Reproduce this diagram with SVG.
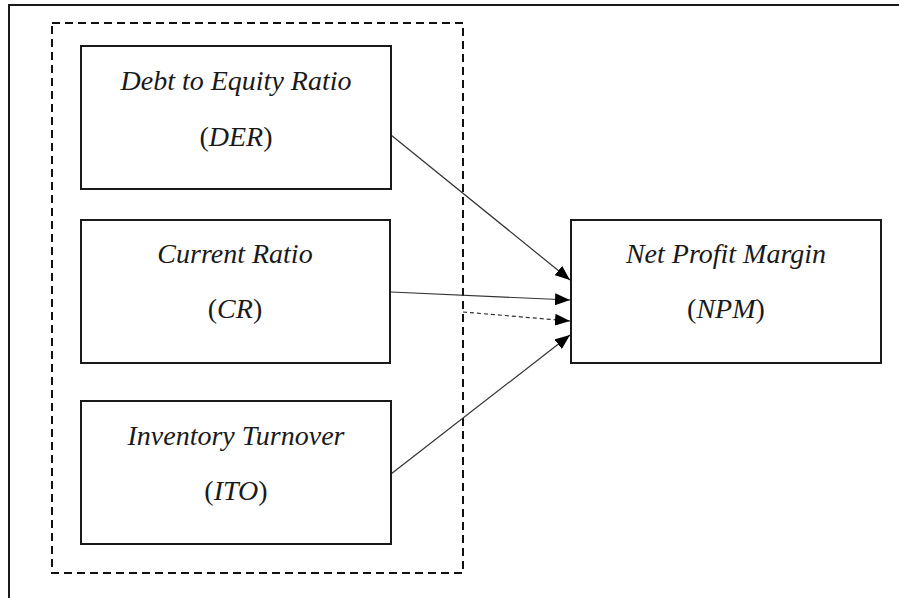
<svg xmlns="http://www.w3.org/2000/svg" width="899" height="598" viewBox="0 0 899 598">
  <style>
    .frame { fill: none; stroke: #1a1a1a; stroke-width: 2; }
    .group { fill: none; stroke: #111; stroke-width: 2; stroke-dasharray: 8 5; }
    .box { fill: #fff; stroke: #1a1a1a; stroke-width: 2; }
    .label { font-family: "Liberation Serif", "Times New Roman", serif; font-size: 28px; font-style: italic; fill: #1a1a1a; text-anchor: middle; }
    .paren { font-style: normal; }
    .link { stroke: #333; stroke-width: 1.2; fill: none; marker-end: url(#arrow); }
    .link.dashed { stroke-dasharray: 4 3; }
  </style>
  <defs>
    <marker id="arrow" markerUnits="userSpaceOnUse" markerWidth="16" markerHeight="12" refX="15" refY="6" orient="auto">
      <path d="M0,0 L15,6 L0,12 z" fill="#000"/>
    </marker>
  </defs>

  <rect class="frame" x="9" y="5" width="900" height="600"/>
  <rect class="group" x="52" y="23" width="411" height="550"/>

  <g id="connectors">
    <line class="link" x1="391" y1="135" x2="570" y2="280"/>
    <line class="link" x1="391" y1="292" x2="570" y2="300"/>
    <line class="link dashed" x1="463" y1="312" x2="570" y2="321"/>
    <line class="link" x1="391" y1="474" x2="570" y2="335"/>
  </g>

  <g id="der">
    <rect class="box" x="81" y="46" width="310" height="143"/>
    <text class="label" x="236" y="90">Debt to Equity Ratio</text>
    <text class="label" x="236" y="146"><tspan class="paren">(</tspan>DER<tspan class="paren">)</tspan></text>
  </g>

  <g id="cr">
    <rect class="box" x="81" y="220" width="309" height="143"/>
    <text class="label" x="235" y="263">Current Ratio</text>
    <text class="label" x="235" y="318"><tspan class="paren">(</tspan>CR<tspan class="paren">)</tspan></text>
  </g>

  <g id="ito">
    <rect class="box" x="81" y="401" width="310" height="143"/>
    <text class="label" x="236" y="445">Inventory Turnover</text>
    <text class="label" x="236" y="500"><tspan class="paren">(</tspan>ITO<tspan class="paren">)</tspan></text>
  </g>

  <g id="npm">
    <rect class="box" x="571" y="220" width="310" height="143"/>
    <text class="label" x="726" y="263">Net Profit Margin</text>
    <text class="label" x="726" y="318"><tspan class="paren">(</tspan>NPM<tspan class="paren">)</tspan></text>
  </g>
</svg>
